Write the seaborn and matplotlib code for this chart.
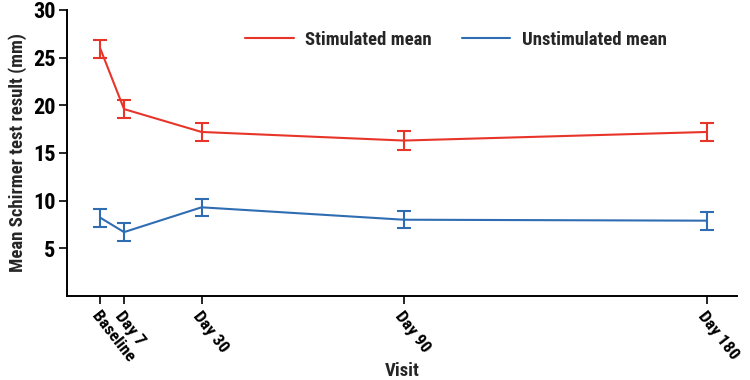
import numpy as np
import pandas as pd
import matplotlib
matplotlib.use("Agg")
import matplotlib.pyplot as plt
from matplotlib import font_manager
import seaborn as sns

# visits (days since baseline) and tick labels
visit_days = [0, 7, 30, 90, 180]
visit_labels = ["Baseline", "Day 7", "Day 30", "Day 90", "Day 180"]

# mean Schirmer test result (mm) and error bar half-widths
stim_mean = [25.9, 19.6, 17.2, 16.3, 17.2]
stim_err = [0.95, 0.9, 0.95, 0.95, 0.95]
unstim_mean = [8.2, 6.7, 9.3, 8.0, 7.9]
unstim_err = [0.95, 0.95, 0.9, 0.9, 0.95]

series_names = ["Stimulated mean", "Unstimulated mean"]
colors = {"Stimulated mean": "#e8352a", "Unstimulated mean": "#2f6db3"}

sns.set_style("white")
installed = {f.name for f in font_manager.fontManager.ttflist}
families = [f for f in ["Liberation Sans Narrow", "Roboto Condensed",
                        "Liberation Sans", "DejaVu Sans"] if f in installed]
plt.rcParams["font.family"] = families
plt.rcParams["font.weight"] = "bold"

df = pd.DataFrame({
    "day": visit_days * 2,
    "value": stim_mean + unstim_mean,
    "err": stim_err + unstim_err,
    "series": [series_names[0]] * 5 + [series_names[1]] * 5,
})

fig = plt.figure(figsize=(7.5, 3.8), dpi=100)
ax = fig.add_axes([0.089, 0.221, 0.894, 0.753])

sns.lineplot(data=df, x="day", y="value", hue="series", palette=colors,
             linewidth=1.5, ax=ax, legend=True)
for name, grp in df.groupby("series"):
    ax.errorbar(grp["day"], grp["value"], yerr=grp["err"], fmt="none",
                ecolor=colors[name], elinewidth=1.5, capsize=5, capthick=1.5)

ax.set_xlim(-10, 189)
ax.set_ylim(0, 30)
ax.set_yticks([5, 10, 15, 20, 25, 30])
ax.set_xticks(visit_days)
ax.set_xticklabels(visit_labels, rotation=-52, ha="left", va="top",
                   rotation_mode="anchor", fontsize=12.5, fontweight="bold")
for lab in ax.get_yticklabels():
    lab.set_fontsize(16)
    lab.set_fontweight("bold")

ax.set_xlabel("Visit", fontsize=13.5, fontweight="bold", labelpad=-2)
ax.set_ylabel("Mean Schirmer test result (mm)", fontsize=13.5, fontweight="bold",
              labelpad=4)

for side in ["top", "right"]:
    ax.spines[side].set_visible(False)
for side in ["left", "bottom"]:
    ax.spines[side].set_color("black")
    ax.spines[side].set_linewidth(1.4)
ax.tick_params(axis="both", direction="out", length=6, width=1.2, colors="black",
               bottom=True, left=True)
ax.tick_params(axis="x", pad=3)
ax.tick_params(axis="y", pad=2)

leg = ax.legend(loc="upper center", bbox_to_anchor=(0.58, 0.985), ncol=2,
                frameon=False, fontsize=13.5, handlelength=2.6,
                handletextpad=0.6, columnspacing=1.6, title=None)
for t in leg.get_texts():
    t.set_fontweight("bold")

fig.savefig("out.png", dpi=100)
